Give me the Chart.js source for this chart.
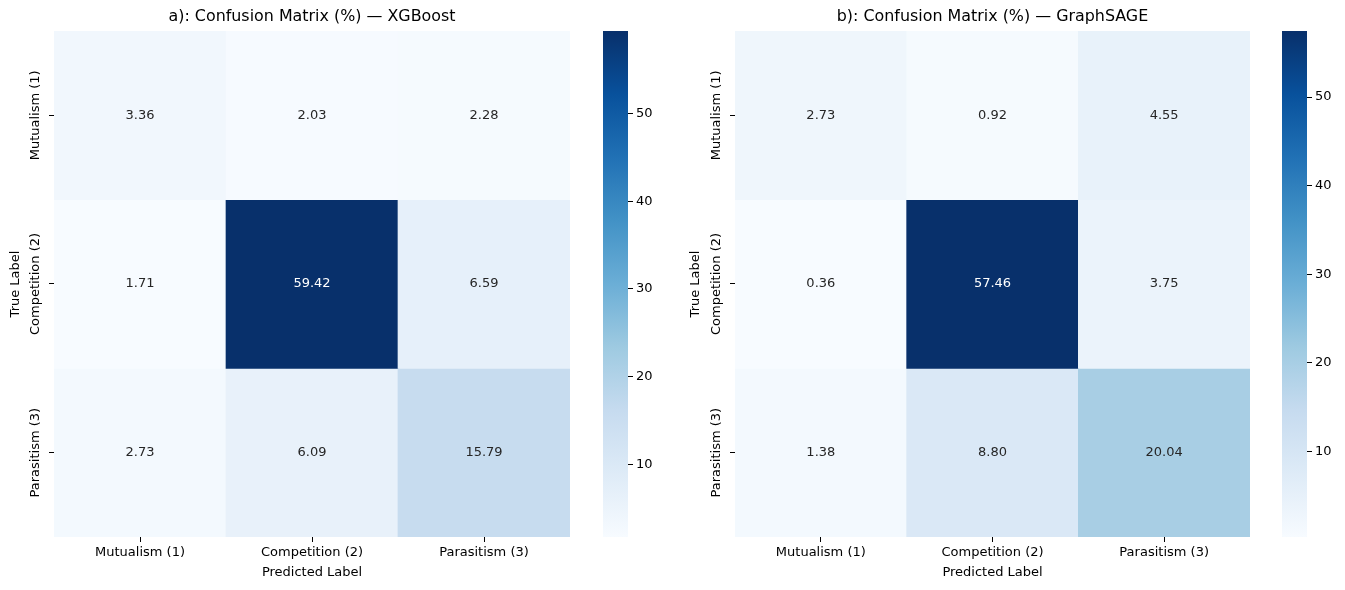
<!DOCTYPE html>
<html>
<head>
<meta charset="utf-8">
<script src="https://cdn.jsdelivr.net/npm/chart.js@4.4.1/dist/chart.umd.min.js"></script>
<style>
  html, body { margin: 0; padding: 0; background: #fff; }
  #fig { position: relative; width: 1345px; height: 590px; }
  .box { position: absolute; top: 0; height: 590px; }
</style>
</head>
<body>
<div id="fig">
  <div class="box" style="left:0;width:590px"><canvas id="heatA"></canvas></div>
  <div class="box" style="left:590px;width:80px"><canvas id="cbA"></canvas></div>
  <div class="box" style="left:680px;width:590px"><canvas id="heatB"></canvas></div>
  <div class="box" style="left:1270px;width:75px"><canvas id="cbB"></canvas></div>
</div>
<script>
'use strict';

// Data
const trueLabels = ['Mutualism (1)', 'Competition (2)', 'Parasitism (3)'];
const predLabels = ['Mutualism (1)', 'Competition (2)', 'Parasitism (3)'];

const xgbRow1 = [3.36, 2.03, 2.28];
const xgbRow2 = [1.71, 59.42, 6.59];
const xgbRow3 = [2.73, 6.09, 15.79];

const sageRow1 = [2.73, 0.92, 4.55];
const sageRow2 = [0.36, 57.46, 3.75];
const sageRow3 = [1.38, 8.80, 20.04];

const colorbarTicks = [10, 20, 30, 40, 50];

const titleA = 'a): Confusion Matrix (%) — XGBoost';
const titleB = 'b): Confusion Matrix (%) — GraphSAGE';

// ── Blues colormap (matplotlib) ───────────────────────────────────────────────
const bluesStops = ['#f7fbff', '#deebf7', '#c6dbef', '#9ecae1', '#6baed6', '#4292c6', '#2171b5', '#08519c', '#08306b'];

function hexToRgb(h) {
  return [parseInt(h.slice(1, 3), 16), parseInt(h.slice(3, 5), 16), parseInt(h.slice(5, 7), 16)];
}

function blues(t) {
  t = Math.max(0, Math.min(1, t));
  const pos = t * (bluesStops.length - 1);
  const i = Math.min(Math.floor(pos), bluesStops.length - 2);
  const f = pos - i;
  const a = hexToRgb(bluesStops[i]);
  const b = hexToRgb(bluesStops[i + 1]);
  return a.map((v, k) => Math.round(v + (b[k] - v) * f));
}

function rgbStr(c) { return `rgb(${c[0]}, ${c[1]}, ${c[2]})`; }

// seaborn picks the annotation colour from the cell luminance
function textColorFor(c) {
  const lin = c.map(v => {
    v /= 255;
    return v <= 0.03928 ? v / 12.92 : Math.pow((v + 0.055) / 1.055, 2.4);
  });
  const lum = 0.2126 * lin[0] + 0.7152 * lin[1] + 0.0722 * lin[2];
  return lum > 0.408 ? '#262626' : '#ffffff';
}

const FONT = 'DejaVu Sans, sans-serif';
const TICK_SIZE = 13;

// Annotation + rotated y tick labels
const heatLabelsPlugin = {
  id: 'heatLabels',
  afterDatasetsDraw(chart) {
    const ctx = chart.ctx;
    ctx.save();
    ctx.font = `${TICK_SIZE}px ${FONT}`;
    ctx.textAlign = 'center';
    ctx.textBaseline = 'middle';
    chart.data.datasets.forEach((ds, di) => {
      const meta = chart.getDatasetMeta(di);
      meta.data.forEach((bar, i) => {
        const p = bar.getCenterPoint();
        ctx.fillStyle = ds.textColors[i];
        ctx.fillText(ds.values[i].toFixed(2), p.x, p.y);
      });
    });
    ctx.restore();
  },
  afterDraw(chart) {
    const y = chart.scales.y;
    const ctx = chart.ctx;
    ctx.save();
    ctx.font = `${TICK_SIZE}px ${FONT}`;
    ctx.fillStyle = '#000';
    ctx.textAlign = 'center';
    ctx.textBaseline = 'middle';
    trueLabels.forEach((lab, i) => {
      const py = y.getPixelForValue(i + 0.5);
      ctx.save();
      ctx.translate(y.right - 18, py);
      ctx.rotate(-Math.PI / 2);
      ctx.fillText(lab, 0, 0);
      ctx.restore();
    });
    ctx.restore();
  },
};

function makeHeatmap(canvasId, title, rows, leftW) {
  const all = rows.flat();
  const vmin = Math.min(...all);
  const vmax = Math.max(...all);

  const datasets = rows.map((vals, r) => {
    const cols = vals.map(v => blues((v - vmin) / (vmax - vmin)));
    return {
      data: vals.map(() => [r, r + 1]),
      values: vals,
      backgroundColor: cols.map(rgbStr),
      textColors: cols.map(textColorFor),
      borderWidth: 0,
      grouped: false,
      categoryPercentage: 1,
      barPercentage: 1,
    };
  });

  return new Chart(document.getElementById(canvasId), {
    type: 'bar',
    data: { labels: predLabels, datasets },
    plugins: [heatLabelsPlugin],
    options: {
      responsive: true,
      maintainAspectRatio: false,
      animation: false,
      layout: { padding: { top: 0, right: 20, left: 0, bottom: 0 } },
      plugins: {
        legend: { display: false },
        tooltip: { enabled: false },
        title: {
          display: true,
          text: title,
          fullSize: false,
          color: '#000',
          font: { family: FONT, size: 15.9, weight: 'normal' },
          padding: { top: 7.5, bottom: 4.4 },
        },
      },
      scales: {
        x: {
          type: 'category',
          offset: true,
          border: { display: false },
          grid: { offset: false, drawOnChartArea: false, drawTicks: true, tickLength: 5, tickColor: '#000' },
          ticks: { color: '#000', font: { family: FONT, size: TICK_SIZE }, padding: 3, maxRotation: 0 },
          title: { display: true, text: 'Predicted Label', color: '#000', font: { family: FONT, size: TICK_SIZE }, padding: { top: 0, bottom: 10 } },
          afterFit: (s) => { s.height = 53; },
        },
        y: {
          type: 'linear',
          min: 0,
          max: 3,
          reverse: true,
          border: { display: false },
          afterBuildTicks: (s) => { s.ticks = trueLabels.map((_, i) => ({ value: i + 0.5 })); },
          grid: { drawOnChartArea: false, drawTicks: true, tickLength: 5, tickColor: '#000' },
          ticks: { display: false },
          title: { display: true, text: 'True Label', color: '#000', font: { family: FONT, size: TICK_SIZE }, padding: { top: 8, bottom: 0 } },
          afterFit: (s) => { s.width = leftW; },
        },
      },
    },
  });
}

function makeColorbar(canvasId, rows, leftPad, axisW) {
  const all = rows.flat();
  const vmin = Math.min(...all);
  const vmax = Math.max(...all);

  const gradientFill = (c) => {
    const area = c.chart.chartArea;
    if (!area) return bluesStops[0];
    const g = c.chart.ctx.createLinearGradient(0, area.bottom, 0, area.top);
    bluesStops.forEach((col, i) => g.addColorStop(i / (bluesStops.length - 1), col));
    return g;
  };

  return new Chart(document.getElementById(canvasId), {
    type: 'bar',
    data: {
      labels: [''],
      datasets: [{
        data: [[vmin, vmax]],
        backgroundColor: gradientFill,
        borderWidth: 0,
        categoryPercentage: 1,
        barPercentage: 1,
      }],
    },
    options: {
      responsive: true,
      maintainAspectRatio: false,
      animation: false,
      layout: { padding: { top: 31, left: leftPad, right: 0, bottom: 53 } },
      plugins: { legend: { display: false }, tooltip: { enabled: false } },
      scales: {
        x: { display: false },
        y: {
          type: 'linear',
          position: 'right',
          min: vmin,
          max: vmax,
          border: { display: false },
          afterBuildTicks: (s) => { s.ticks = colorbarTicks.map(v => ({ value: v })); },
          grid: { drawOnChartArea: false, drawTicks: true, tickLength: 5, tickColor: '#000' },
          ticks: { color: '#000', font: { family: FONT, size: TICK_SIZE }, padding: 3 },
          afterFit: (s) => { s.width = axisW; },
        },
      },
    },
  });
}

makeHeatmap('heatA', titleA, [xgbRow1, xgbRow2, xgbRow3], 54);
makeColorbar('cbA', [xgbRow1, xgbRow2, xgbRow3], 13, 42);
makeHeatmap('heatB', titleB, [sageRow1, sageRow2, sageRow3], 55);
makeColorbar('cbB', [sageRow1, sageRow2, sageRow3], 12, 38);
</script>
</body>
</html>
